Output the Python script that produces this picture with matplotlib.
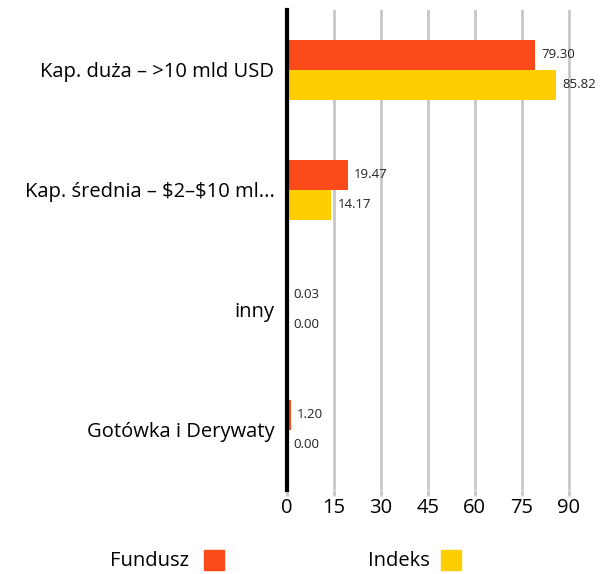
import numpy as np
import matplotlib.pyplot as plt

categories = ['Kap. duża – >10 mld USD', 'Kap. średnia – \\$2–\\$10 ml...', 'inny', 'Gotówka i Derywaty']
fundusz = [79.30, 19.47, 0.03, 1.20]
indeks = [85.82, 14.17, 0.00, 0.00]
ticks = [0, 15, 30, 45, 60, 75, 90]

c_fund = '#fc4a1a'
c_idx = '#ffce00'

plt.rcParams['font.family'] = ['Open Sans', 'DejaVu Sans']

fig = plt.figure(figsize=(6.14, 5.74), dpi=100)
ax = fig.add_axes([287 / 614, 1 - 490 / 574, 313 / 614, 480 / 574])

y = np.arange(len(categories))
h = 0.25
ax.barh(y - h / 2, fundusz, height=h, color=c_fund, zorder=3)
ax.barh(y + h / 2, indeks, height=h, color=c_idx, zorder=3)

for yi, f, i in zip(y, fundusz, indeks):
    ax.text(f + 2, yi - h / 2, f'{f:.2f}', va='center', ha='left', fontsize=9.5, color='#222222')
    ax.text(i + 2, yi + h / 2, f'{i:.2f}', va='center', ha='left', fontsize=9.5, color='#222222')

ax.set_ylim(len(categories) - 0.5, -0.5)
ax.set_xlim(0, 100)
ax.set_yticks(y)
ax.set_yticklabels(categories, fontsize=14.5)
ax.set_xticks(ticks)
ax.set_xticklabels([str(t) for t in ticks], fontsize=14.5)
ax.tick_params(axis='y', length=0, pad=9)
ax.tick_params(axis='x', length=4, width=2, color='#c8c8c8', pad=2)

ax.grid(axis='x', color='#c8c8c8', linewidth=2, zorder=0)
for s in ['top', 'right', 'bottom']:
    ax.spines[s].set_visible(False)
ax.spines['left'].set_linewidth(3)
ax.spines['left'].set_color('black')
ax.spines['left'].set_zorder(4)

fig.text(110 / 614, 1 - 561 / 574, 'Fundusz', fontsize=14.5, va='center', ha='left')
fig.patches.append(plt.Rectangle((204 / 614, 1 - 570 / 574), 20 / 614, 20 / 574,
                                 transform=fig.transFigure, color=c_fund))
fig.text(368 / 614, 1 - 561 / 574, 'Indeks', fontsize=14.5, va='center', ha='left')
fig.patches.append(plt.Rectangle((441 / 614, 1 - 570 / 574), 20 / 614, 20 / 574,
                                 transform=fig.transFigure, color=c_idx))

fig.savefig('out.png', dpi=100)
